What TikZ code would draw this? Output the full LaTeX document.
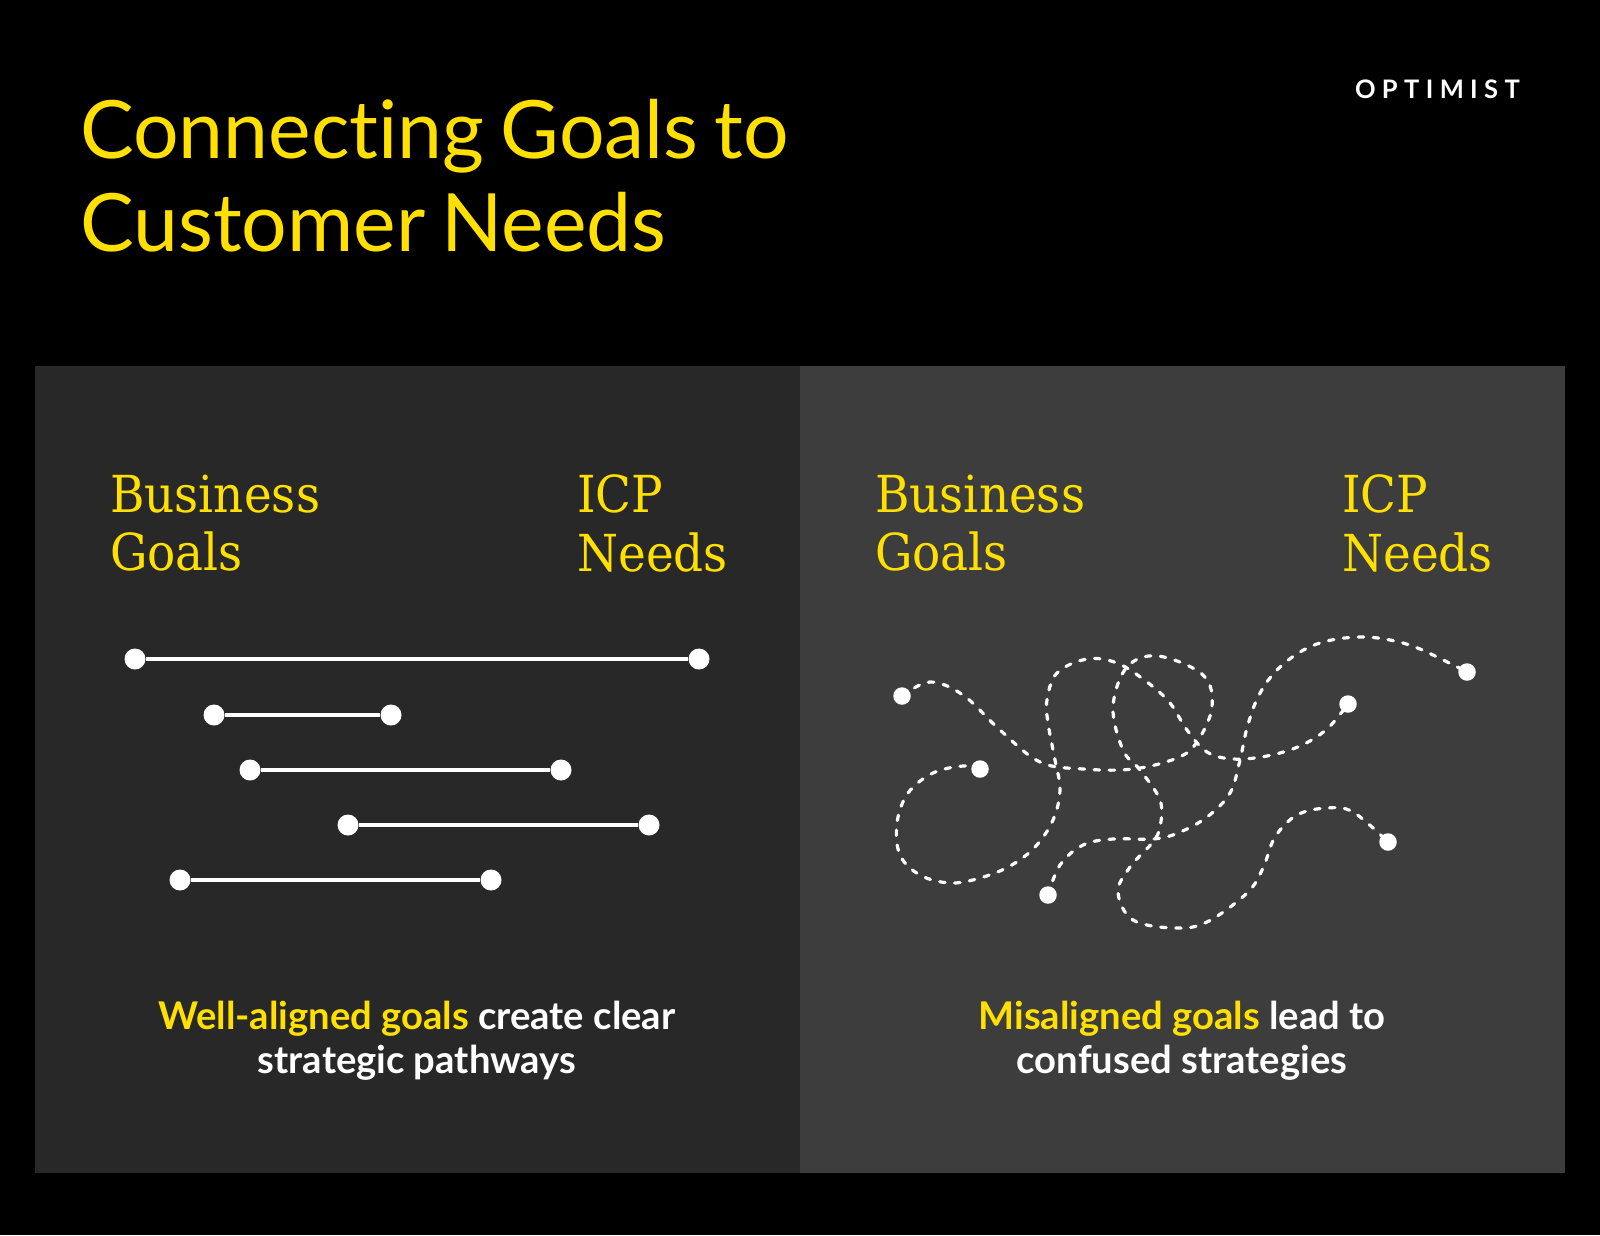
\documentclass[tikz,border=0pt]{standalone}
\usepackage{fontspec}
\setmainfont{Lato}[Ligatures=NoCommon]
\newfontfamily\titlefont{Lato}[Ligatures=NoCommon,WordSpace=0.78]
\newfontfamily\labelfont{DejaVu Serif}[FakeStretch=0.92]
\definecolor{brandyellow}{HTML}{FFE000}
\definecolor{panelleft}{HTML}{282828}
\definecolor{panelright}{HTML}{3D3D3D}
\tikzset{
  titletext/.style={text=brandyellow,anchor=north west,align=left,inner sep=0pt,font=\titlefont\fontsize{80.5}{92.7}\selectfont},
  sidetext/.style={text=brandyellow,anchor=north west,align=left,inner sep=0pt,font=\labelfont\fontsize{51}{58.5}\selectfont},
  captext/.style={text=white,anchor=north,align=center,inner sep=0pt,font=\bfseries\fontsize{38.2}{44}\selectfont},
  bigdot/.style={circle,fill=white,inner sep=0pt,minimum size=21pt},
  smalldot/.style={circle,fill=white,inner sep=0pt,minimum size=17.5pt},
  straightlink/.style={draw=white,line width=4pt},
  messylink/.style={draw=white,line width=3.2pt,line cap=round,dash pattern=on 5.5pt off 9.5pt}
}
\begin{document}
\begin{tikzpicture}[x=1pt,y=-1pt]
  \useasboundingbox (0,0) rectangle (1600,1235);
  \fill[black] (0,0) rectangle (1600,1235);
  \fill[panelleft] (35,366) rectangle (800,1173);
  \fill[panelright] (800,366) rectangle (1565,1173);

  \node[titletext] (title) at (80,99) {Connecting Goals to\\Customer Needs};
  \node[anchor=base east,inner sep=0pt,text=white,font=\bfseries\fontsize{25.5}{30}\selectfont] (brand) at (1520,98.5)
    {\addfontfeatures{LetterSpace=25}OPTIMIST};

  \node[sidetext] (goalsl) at (110,474.5) {Business\\Goals};
  \node[sidetext] (needsl) at (577,474.5) {ICP\\Needs};
  \node[sidetext] (goalsr) at (875,474.5) {Business\\Goals};
  \node[sidetext] (needsr) at (1342,474.5) {ICP\\Needs};

  \node[bigdot] (a1) at (135,659) {};
  \node[bigdot] (b1) at (699,659) {};
  \node[bigdot] (a2) at (214,715) {};
  \node[bigdot] (b2) at (391,715) {};
  \node[bigdot] (a3) at (250,770) {};
  \node[bigdot] (b3) at (561,770) {};
  \node[bigdot] (a4) at (348,825) {};
  \node[bigdot] (b4) at (649,825) {};
  \node[bigdot] (a5) at (180,880) {};
  \node[bigdot] (b5) at (491,880) {};
  \foreach \i in {1,...,5} {
    \draw[straightlink] (a\i) -- (b\i);
  }

  \node[smalldot] (p1) at (902,696) {};
  \node[smalldot] (q1) at (1388,842) {};
  \node[smalldot] (p2) at (980,769) {};
  \node[smalldot] (q2) at (1348,704) {};
  \node[smalldot] (p3) at (1048,895) {};
  \node[smalldot] (q3) at (1467,672) {};

  \draw[messylink] plot[smooth,tension=0.6] coordinates {(p1) (930,682) (963,695) (1000,730) (1040,762) (1083,769)
    (1133,769) (1177,758) (1197,742) (1212,707) (1203,675) (1158,656) (1127,667) (1113,707) (1123,750) (1140,770)
    (1160,800) (1160,827) (1152,843) (1130,867) (1118,892) (1133,920) (1175,928) (1207,922) (1247,893) (1263,868)
    (1275,837) (1297,815) (1327,808) (1353,812) (q1)};
  \draw[messylink] plot[smooth,tension=0.6] coordinates {(p2) (963,766) (933,773) (908,793) (897,823) (900,855)
    (920,875) (950,883) (980,878) (1010,866) (1035,847) (1053,820) (1060,790) (1055,760) (1048,723) (1047,700)
    (1057,673) (1087,659) (1117,663) (1147,682) (1170,703) (1187,730) (1207,752) (1233,759) (1267,756) (1300,746)
    (1327,729) (q2)};
  \draw[messylink] plot[smooth,tension=0.6] coordinates {(p3) (1060,865) (1083,845) (1113,839) (1153,839) (1178,833)
    (1207,817) (1230,793) (1240,760) (1247,728) (1258,697) (1275,672) (1300,652) (1327,641) (1360,637) (1390,640)
    (1420,649) (q3)};

  \node[captext] (capl) at (417,1001) {\textcolor{brandyellow}{Well-aligned goals} create clear\\strategic pathways};
  \node[captext] (capr) at (1182,1001) {\textcolor{brandyellow}{Misaligned goals} lead to\\confused strategies};
\end{tikzpicture}
\end{document}
